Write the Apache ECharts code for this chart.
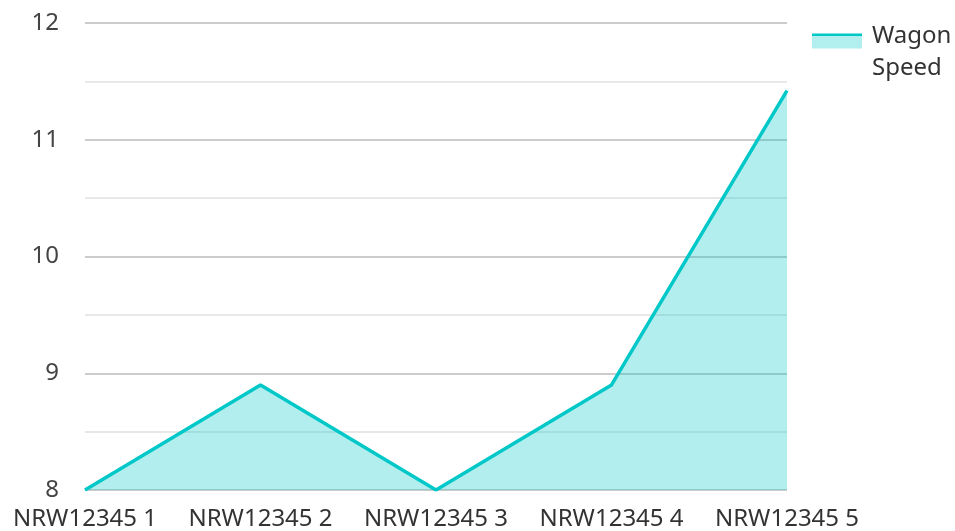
<!DOCTYPE html>
<html>
<head>
<meta charset="utf-8">
<script src="https://cdn.jsdelivr.net/npm/echarts@6/dist/echarts.min.js"></script>
<style>html,body{margin:0;padding:0;background:#fff}#c{width:955px;height:531px}</style>
</head>
<body>
<div id="c"></div>
<script>
const categories = ['NRW12345 1', 'NRW12345 2', 'NRW12345 3', 'NRW12345 4', 'NRW12345 5'];
const wagonSpeed = [8, 8.9, 8, 8.9, 11.42];
const seriesName = 'Wagon Speed';
const yMin = 8, yMax = 12;

const lineColor = '#00c8c8';
const chart = echarts.init(document.getElementById('c'));
chart.setOption({
  animation: false,
  textStyle: { fontFamily: 'Noto Sans' },
  grid: { left: 85, right: 168, top: 23, bottom: 41, containLabel: false },
  legend: {
    left: 812, top: 4, padding: 0,
    itemWidth: 50, itemHeight: 15, itemGap: 10,
    icon: 'rect',
    formatter: function () { return '{e| }\n{t|Wagon}\n{t|Speed}'; },
    itemStyle: {
      color: new echarts.graphic.LinearGradient(0, 0, 0, 1, [
        { offset: 0, color: lineColor }, { offset: 0.2, color: lineColor },
        { offset: 0.2, color: 'rgba(0,200,200,0.3)' }, { offset: 1, color: 'rgba(0,200,200,0.3)' }
      ]),
      borderWidth: 0
    },
    textStyle: {
      fontSize: 24, color: '#333', fontFamily: 'Noto Sans',
      rich: {
        e: { fontSize: 10, lineHeight: 22 },
        t: { fontSize: 24, lineHeight: 32, color: '#333', fontFamily: 'Noto Sans', padding: [0, 0, 0, 5] }
      }
    }
  },
  xAxis: {
    type: 'category', data: categories, boundaryGap: false,
    axisLine: { show: false }, axisTick: { show: false },
    axisLabel: { fontSize: 24, color: '#333', margin: 17, interval: 0, fontFamily: 'Noto Sans' },
    splitLine: { show: false }
  },
  yAxis: {
    type: 'value', min: yMin, max: yMax, interval: 1,
    axisLine: { show: false }, axisTick: { show: false },
    axisLabel: { fontSize: 24, color: '#444', margin: 26, fontFamily: 'Noto Sans' },
    splitLine: { show: true, lineStyle: { color: '#cccccc', width: 2 } },
    minorTick: { show: false, splitNumber: 2 },
    minorSplitLine: { show: true, lineStyle: { color: '#e8e8e8', width: 2 } }
  },
  series: [{
    name: seriesName, type: 'line', data: wagonSpeed,
    showSymbol: false, symbol: 'none',
    lineStyle: { color: lineColor, width: 3.5 },
    itemStyle: { color: lineColor },
    areaStyle: { color: lineColor, opacity: 0.3 }
  }]
});
</script>
</body>
</html>
